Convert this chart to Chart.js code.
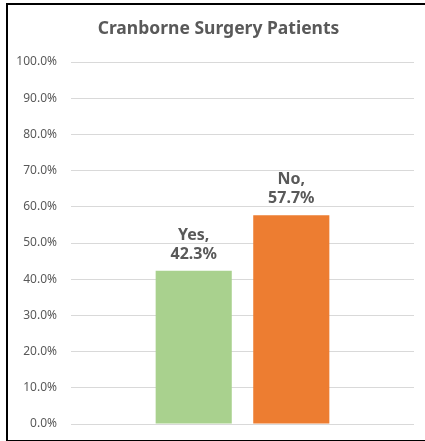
<!DOCTYPE html>
<html>
<head>
<meta charset="utf-8">
<script src="https://cdn.jsdelivr.net/npm/chart.js@4"></script>
<style>
  html, body { margin: 0; padding: 0; background: #fff; overflow: hidden; }
  #frame { position: absolute; left: 6px; top: 3px; width: 440px; height: 435px;
           border-left: 2px solid #000; border-top: 2px solid #000; border-bottom: 2px solid #000; }
  #wrap { position: absolute; left: -15px; top: 0; width: 440px; height: 441px; }
</style>
</head>
<body>
<div id="frame"></div>
<div id="wrap"><canvas id="c" width="440" height="441"></canvas></div>
<script>
const chartTitle = "Cranborne Surgery Patients";
const categories = [""];
const seriesNames = ["Yes", "No"];
const seriesValues = [42.3, 57.7];
const seriesColors = ["#A9D18E", "#ED7D31"];
const yMax = 100;
const yStep = 10;

const textColor = "#595959";

const labelPlugin = {
  id: "barLabels",
  afterDatasetsDraw(chart) {
    const ctx = chart.ctx;
    ctx.save();
    ctx.font = "bold 16px 'Noto Sans'";
    ctx.fillStyle = textColor;
    ctx.textAlign = "center";
    ctx.textBaseline = "alphabetic";
    chart.data.datasets.forEach((ds, i) => {
      const meta = chart.getDatasetMeta(i);
      meta.data.forEach((bar, j) => {
        const v = ds.data[j];
        ctx.fillText(v.toFixed(1) + "%", bar.x, bar.y - 12);
        ctx.fillText(ds.label + ",", bar.x, bar.y - 31);
      });
    });
    ctx.restore();
  }
};

const titlePlugin = {
  id: "centeredTitle",
  afterDraw(chart) {
    const ctx = chart.ctx;
    ctx.save();
    ctx.font = "bold 17.5px 'Noto Sans'";
    ctx.fillStyle = textColor;
    ctx.textAlign = "center";
    ctx.textBaseline = "middle";
    ctx.fillText(chartTitle, 233.5, 29.5);
    ctx.restore();
  }
};

new Chart(document.getElementById("c"), {
  type: "bar",
  data: {
    labels: categories,
    datasets: seriesNames.map((name, i) => ({
      label: name,
      data: [seriesValues[i]],
      backgroundColor: seriesColors[i],
      borderWidth: 0,
      categoryPercentage: 0.569,
      barPercentage: 0.78
    }))
  },
  options: {
    responsive: false,
    animation: false,
    layout: { padding: { left: 23, right: 11, top: 62, bottom: 17 } },
    plugins: {
      legend: { display: false },
      tooltip: { enabled: false },
      title: { display: false }
    },
    scales: {
      x: { display: false },
      y: {
        min: 0,
        max: yMax,
        border: { display: false },
        grid: { color: "#D9D9D9", lineWidth: 1, drawTicks: false },
        ticks: {
          stepSize: yStep,
          padding: 14,
          color: textColor,
          font: { family: "'Noto Sans'", size: 12 },
          callback: (v) => v.toFixed(1) + "%"
        },
        afterFit: (s) => { s.width = 63; s.paddingTop = 0; s.paddingBottom = 0; }
      }
    }
  },
  plugins: [labelPlugin, titlePlugin]
});
</script>
</body>
</html>
